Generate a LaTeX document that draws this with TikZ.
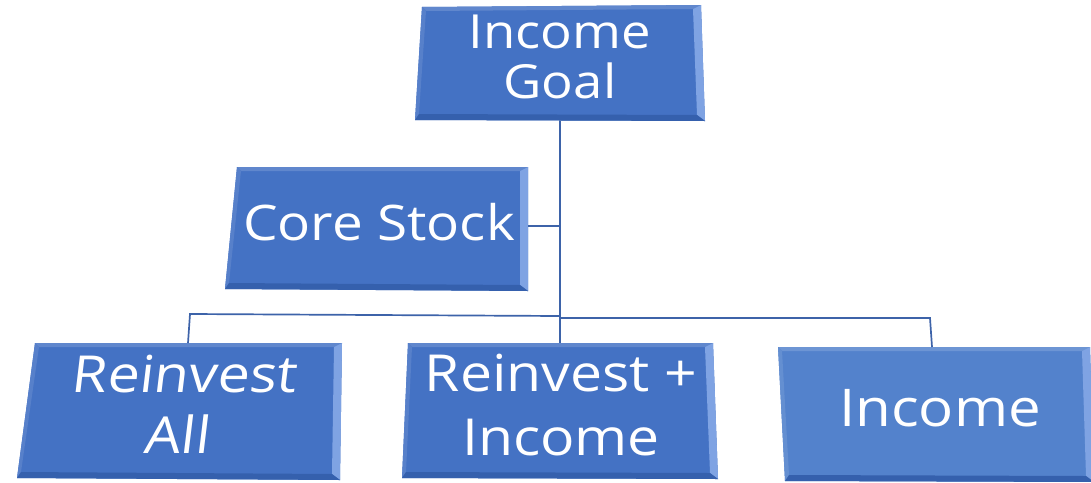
\documentclass[tikz,border=0pt]{standalone}
\usepackage{fontspec}
\setmainfont{Open Sans}
\newfontfamily\boxfont[FakeStretch=1.12]{Open Sans}
\usetikzlibrary{calc}

\definecolor{boxblue}{HTML}{4472C4}
\definecolor{incblue}{HTML}{5382CC}
\definecolor{bevlight}{HTML}{7FA3E3}
\definecolor{bevdark}{HTML}{3560AD}
\definecolor{linkblue}{HTML}{3D63A9}

\tikzset{
    boxtext/.style={text=white, align=center, inner sep=0pt},
    link/.style={draw=linkblue, line width=1.7pt},
}

% bevelled box: name, top left, top right, bottom right, bottom left, fill
\newcommand{\bevelbox}[6]{%
    \coordinate (#1-tl) at #2;
    \coordinate (#1-tr) at #3;
    \coordinate (#1-br) at #4;
    \coordinate (#1-bl) at #5;
    \fill[#6] (#1-tl) -- (#1-tr) -- (#1-br) -- (#1-bl) -- cycle;
    \fill[#6!85!white] (#1-tl) -- (#1-tr) -- ($(#1-tr)+(-8,4)$) -- ($(#1-tl)+(4,4)$) -- cycle;
    \fill[#6!90!white] (#1-tl) -- (#1-bl) -- ($(#1-bl)+(4,-6)$) -- ($(#1-tl)+(4,4)$) -- cycle;
    \fill[bevlight] (#1-tr) -- (#1-br) -- ($(#1-br)+(-8,-6)$) -- ($(#1-tr)+(-8,4)$) -- cycle;
    \fill[bevdark] (#1-bl) -- (#1-br) -- ($(#1-br)+(-8,-6)$) -- ($(#1-bl)+(4,-6)$) -- cycle;
}

\begin{document}
\begin{tikzpicture}[x=1pt, y=-1pt]
    \useasboundingbox (0,0) rectangle (1091,482);

    % Boxes
    \bevelbox{goal}{(422,7)}{(701,5)}{(705,121)}{(415,120)}{boxblue}
    \bevelbox{core}{(237,167)}{(528,167)}{(528,291)}{(225,289)}{boxblue}
    \bevelbox{all}{(35,343)}{(342,343)}{(340,480)}{(17,478)}{boxblue}
    \bevelbox{mid}{(408,343)}{(713,343)}{(718,479)}{(402,478)}{boxblue}
    \bevelbox{inc}{(778,347)}{(1090,347)}{(1094,482)}{(785,481)}{incblue}

    % Labels
    \node[boxtext, font=\boxfont\fontsize{47}{50}\selectfont] (goal) at (560,57) {Income\\Goal};
    \node[boxtext, font=\boxfont\fontsize{49}{52}\selectfont] (core) at (379,222) {Core Stock};
    \node[boxtext, font=\boxfont\fontsize{51}{61}\selectfont, xslant=0.12] (all) at (182,404) {Reinvest\\All};
    \node[boxtext, font=\boxfont\fontsize{51}{64}\selectfont] (mid) at (561,405) {Reinvest +\\Income};
    \node[boxtext, font=\boxfont\fontsize{52}{60}\selectfont] (inc) at (940,408) {Income};

    % Connector points
    \coordinate (goal-out) at (560,121);
    \coordinate (core-out) at (528,226);
    \coordinate (hub) at (560,316);
    \coordinate (lbend) at (190,314);
    \coordinate (rbend) at (930,318);
    \coordinate (all-in) at (188,343);
    \coordinate (mid-in) at (560,343);
    \coordinate (inc-in) at (932,347);

    % Connectors
    \draw[link] (goal-out) -- (mid-in);
    \draw[link] (core-out) -- (core-out -| hub);
    \draw[link] (hub) -- (lbend) -- (all-in);
    \draw[link] (hub |- rbend) -- (rbend) -- (inc-in);
\end{tikzpicture}
\end{document}
